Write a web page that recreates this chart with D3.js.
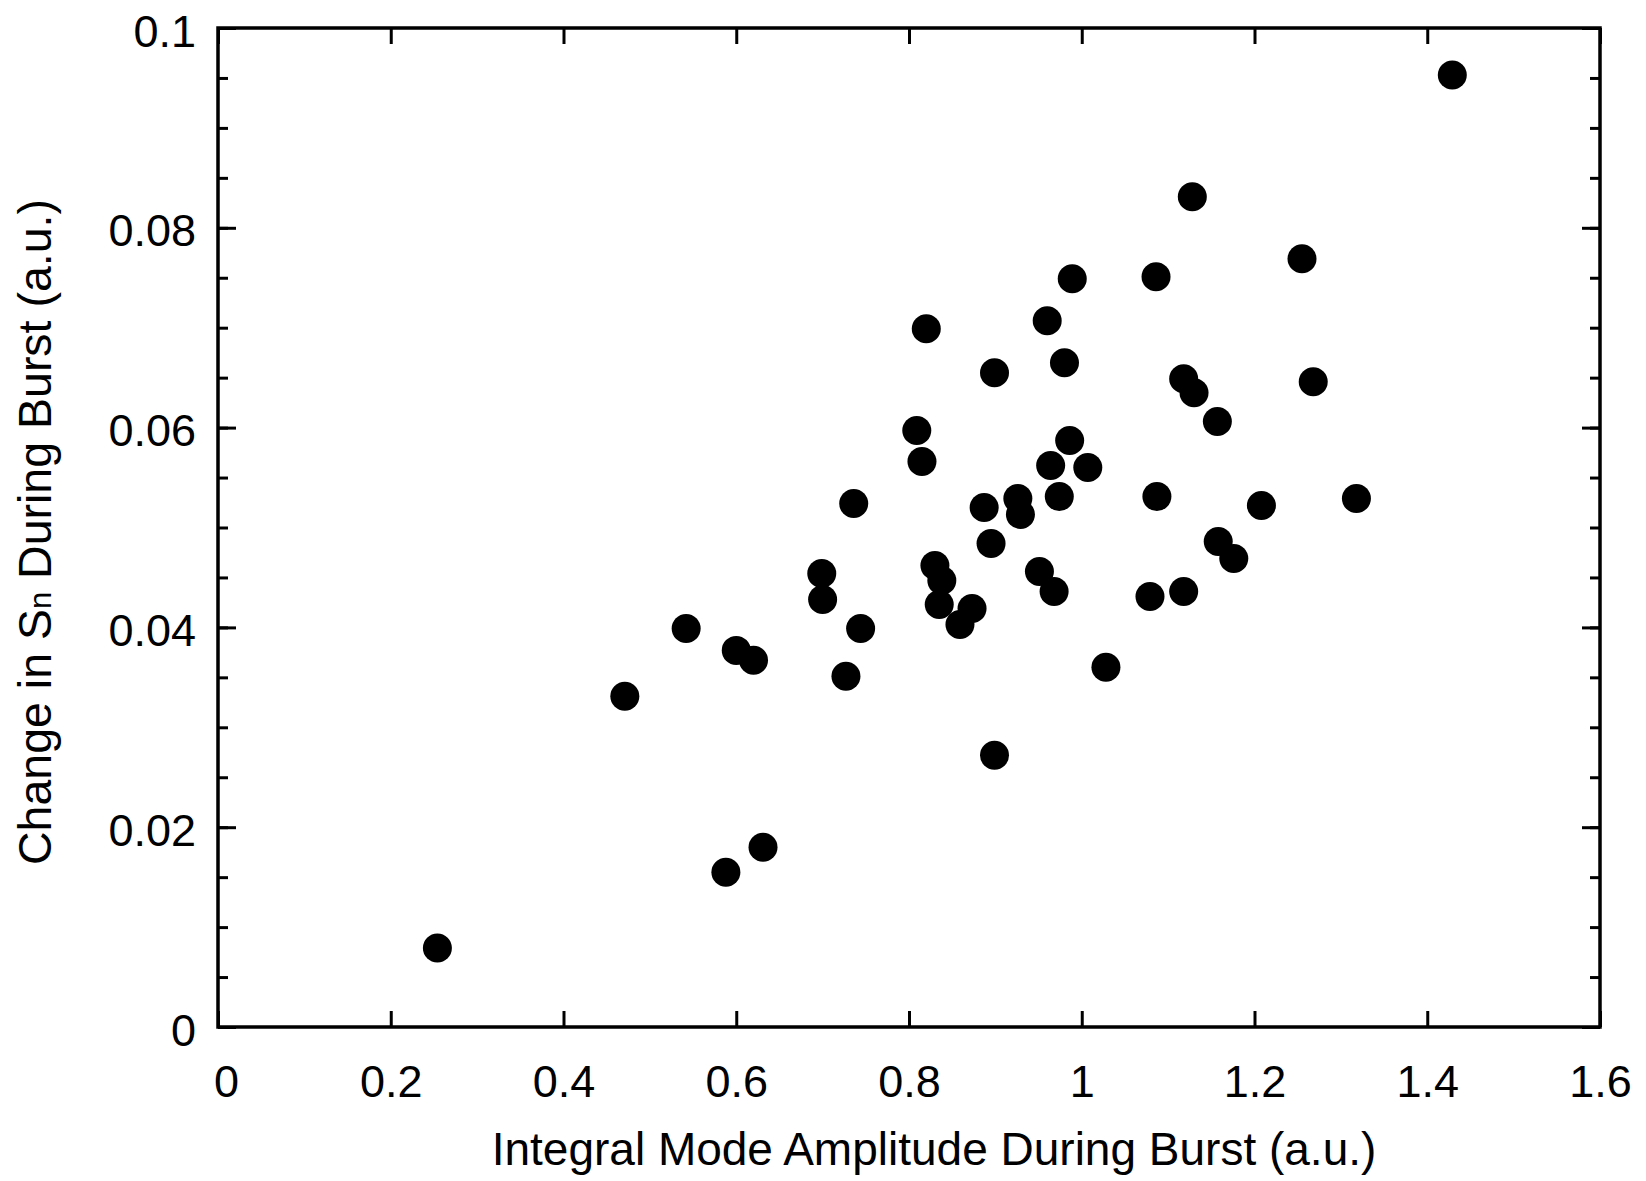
<!DOCTYPE html>
<html>
<head>
<meta charset="utf-8">
<title>Change in Sn vs Integral Mode Amplitude</title>
<script src="https://cdnjs.cloudflare.com/ajax/libs/d3/7.8.5/d3.min.js"></script>
<style>
  body { margin: 0; background: #fff; }
  svg text { font-family: "Liberation Sans", Arial, Helvetica, sans-serif; fill: #000; }
</style>
</head>
<body>
<div id="chart"></div>
<script>
// integral mode amplitude during burst (a.u.)
var amplitude = [0.254, 0.471, 0.542, 0.588, 0.600, 0.620, 0.631, 0.699, 0.700, 0.727,
                 0.736, 0.744, 0.809, 0.815, 0.820, 0.830, 0.838, 0.835, 0.859, 0.873,
                 0.887, 0.895, 0.899, 0.899, 0.926, 0.929, 0.951, 0.960, 0.964, 0.968,
                 0.974, 0.980, 0.986, 0.989, 1.007, 1.028, 1.079, 1.086, 1.087, 1.118,
                 1.118, 1.130, 1.128, 1.157, 1.158, 1.176, 1.208, 1.255, 1.268, 1.318,
                 1.429];
// change in Sn during burst (a.u.)
var deltaSn = [0.0079, 0.0331, 0.0399, 0.0155, 0.0377, 0.0367, 0.0180, 0.0454, 0.0428, 0.0351,
               0.0524, 0.0399, 0.0597, 0.0566, 0.0699, 0.0462, 0.0447, 0.0423, 0.0403, 0.0419,
               0.0520, 0.0484, 0.0655, 0.0272, 0.0529, 0.0513, 0.0456, 0.0707, 0.0562, 0.0436,
               0.0531, 0.0665, 0.0587, 0.0749, 0.0560, 0.0360, 0.0431, 0.0751, 0.0531, 0.0436,
               0.0649, 0.0635, 0.0831, 0.0606, 0.0486, 0.0469, 0.0522, 0.0769, 0.0646, 0.0529,
               0.0953];

var xTicks = [0, 0.2, 0.4, 0.6, 0.8, 1, 1.2, 1.4, 1.6];
var yTicks = [0, 0.02, 0.04, 0.06, 0.08, 0.1];
var yMinor = d3.range(0, 21).map(function(i){ return i * 0.005; });

var W = 1646, H = 1181;
var margin = {top: 28, right: 46, bottom: 154, left: 218};
var width = W - margin.left - margin.right;
var height = H - margin.top - margin.bottom;

var svg = d3.select("#chart").append("svg")
            .attr("width", W).attr("height", H);
var g = svg.append("g").attr("transform", "translate(" + margin.left + "," + margin.top + ")");

var x = d3.scaleLinear().domain([0, 1.6]).range([0, width]);
var y = d3.scaleLinear().domain([0, 0.1]).range([height, 0]);

function fmt(d){ return d === 0 ? "0" : String(+d.toFixed(2)); }

// inward ticks on all four sides
function tickAxis(gen, tf){
  var a = g.append("g").attr("transform", tf).call(gen);
  a.select(".domain").remove();
  a.selectAll("line").attr("stroke", "#000").attr("stroke-width", 3);
  return a;
}
tickAxis(d3.axisBottom(x).tickValues(xTicks).tickSize(-16).tickFormat(""), "translate(0," + height + ")");
tickAxis(d3.axisTop(x).tickValues(xTicks).tickSize(-16).tickFormat(""), "translate(0,0)");
tickAxis(d3.axisLeft(y).tickValues(yMinor).tickSize(-10).tickFormat(""), "translate(0,0)");
tickAxis(d3.axisLeft(y).tickValues(yTicks).tickSize(-18).tickFormat(""), "translate(0,0)");
tickAxis(d3.axisRight(y).tickValues(yMinor).tickSize(-10).tickFormat(""), "translate(" + width + ",0)");
tickAxis(d3.axisRight(y).tickValues(yTicks).tickSize(-18).tickFormat(""), "translate(" + width + ",0)");

// tick labels
var xl = g.append("g").attr("transform", "translate(0," + height + ")")
          .call(d3.axisBottom(x).tickValues(xTicks).tickSize(0).tickPadding(38).tickFormat(fmt));
xl.select(".domain").remove();
xl.selectAll("text").attr("font-size", 45).attr("dy", "0.71em")
  .style("font-family", "'Liberation Sans', Arial, sans-serif");
xl.selectAll(".tick").filter(function(d){ return d === 0; }).select("text").attr("x", 8);

var yl = g.append("g")
          .call(d3.axisLeft(y).tickValues(yTicks).tickSize(0).tickPadding(22).tickFormat(fmt));
yl.select(".domain").remove();
yl.selectAll("text").attr("font-size", 45).attr("dy", "0.4em")
  .style("font-family", "'Liberation Sans', Arial, sans-serif");

// frame
g.append("rect").attr("x", 0).attr("y", 0).attr("width", width).attr("height", height)
 .attr("fill", "none").attr("stroke", "#000").attr("stroke-width", 3.5);

// points
g.selectAll(".dot").data(amplitude).enter().append("circle")
 .attr("class", "dot")
 .attr("cx", function(d){ return x(d); })
 .attr("cy", function(d, i){ return y(deltaSn[i]); })
 .attr("r", 14.5)
 .attr("fill", "#000");

// axis titles
svg.append("text").attr("x", 934).attr("y", 1165)
   .attr("text-anchor", "middle").attr("font-size", 46)
   .text("Integral Mode Amplitude During Burst (a.u.)");

var yt = svg.append("text").attr("transform", "translate(51,532) rotate(-90)")
   .attr("text-anchor", "middle").attr("font-size", 46.5);
yt.append("tspan").text("Change in S");
yt.append("tspan").attr("font-size", 31).text("n");
yt.append("tspan").text(" During Burst (a.u.)");
</script>
</body>
</html>
